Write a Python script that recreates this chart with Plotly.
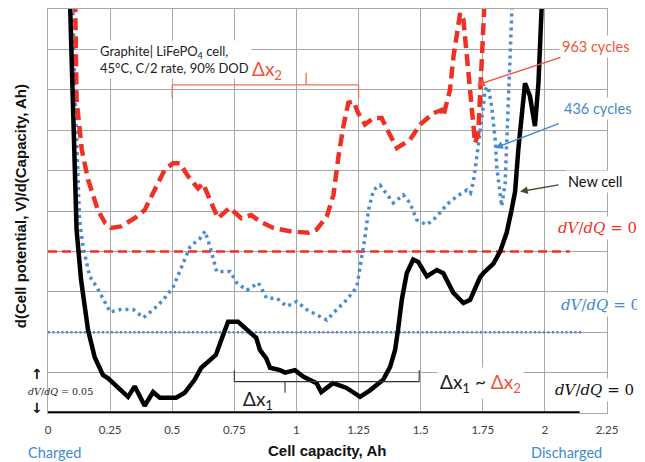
import plotly.graph_objects as go

# ---------------- data ----------------
x_ticks = [0, 0.25, 0.5, 0.75, 1, 1.25, 1.5, 1.75, 2, 2.25]
x_tick_labels = ["0", "0.25", "0.5", "0.75", "1", "1.25", "1.5", "1.75", "2", "2.25"]

# New cell (baseline dV/dQ = 0 at 0.0)
new_x = [0.080, 0.089, 0.100, 0.115, 0.133, 0.161, 0.188, 0.221, 0.242, 0.282, 0.322, 0.349,
         0.369, 0.389, 0.423, 0.450, 0.483, 0.516, 0.550, 0.590, 0.617, 0.656, 0.676, 0.697,
         0.725, 0.765, 0.805, 0.838, 0.853, 0.878, 0.894, 0.934, 0.954, 0.994, 1.027, 1.081,
         1.100, 1.147, 1.202, 1.256, 1.296, 1.349, 1.377, 1.397, 1.409, 1.424, 1.444, 1.470,
         1.490, 1.525, 1.565, 1.591, 1.631, 1.672, 1.699, 1.739, 1.752, 1.793, 1.820, 1.846,
         1.865, 1.880, 1.893, 1.907, 1.920, 1.940, 1.960, 1.974, 1.987, 1.995]
new_y = [0.600, 0.500, 0.360, 0.227, 0.165, 0.103, 0.069, 0.047, 0.043, 0.032, 0.020, 0.033,
         0.022, 0.009, 0.026, 0.019, 0.019, 0.019, 0.025, 0.041, 0.056, 0.066, 0.072, 0.090,
         0.113, 0.113, 0.103, 0.093, 0.078, 0.068, 0.056, 0.053, 0.050, 0.053, 0.045, 0.037,
         0.026, 0.037, 0.031, 0.020, 0.028, 0.041, 0.057, 0.078, 0.103, 0.140, 0.173, 0.190,
         0.187, 0.169, 0.177, 0.173, 0.149, 0.136, 0.140, 0.168, 0.173, 0.185, 0.200, 0.223,
         0.250, 0.274, 0.326, 0.375, 0.408, 0.392, 0.355, 0.408, 0.500, 0.560]

# 436 cycles (baseline dV/dQ = 0 at 0.1)
c436_x = [0.098, 0.100, 0.108, 0.114, 0.120, 0.127, 0.141, 0.154, 0.168, 0.196, 0.223, 0.250,
          0.290, 0.343, 0.384, 0.424, 0.464, 0.504, 0.538, 0.572, 0.612, 0.632, 0.652, 0.679,
          0.733, 0.760, 0.800, 0.847, 0.880, 0.921, 0.961, 1.001, 1.041, 1.082, 1.122, 1.162,
          1.202, 1.243, 1.263, 1.276, 1.290, 1.310, 1.337, 1.363, 1.390, 1.430, 1.457, 1.484,
          1.525, 1.565, 1.605, 1.645, 1.686, 1.700, 1.712, 1.726, 1.739, 1.752, 1.759, 1.772,
          1.786, 1.800, 1.806, 1.820, 1.826, 1.840, 1.849, 1.857, 1.867, 1.871, 1.875]
c436_y = [0.600, 0.500, 0.400, 0.338, 0.280, 0.239, 0.206, 0.190, 0.169, 0.156, 0.140, 0.125,
          0.128, 0.128, 0.118, 0.128, 0.140, 0.156, 0.181, 0.206, 0.216, 0.225, 0.206, 0.175,
          0.175, 0.161, 0.152, 0.161, 0.142, 0.142, 0.132, 0.138, 0.128, 0.121, 0.115, 0.128,
          0.140, 0.156, 0.190, 0.218, 0.251, 0.276, 0.282, 0.272, 0.260, 0.270, 0.260, 0.239,
          0.233, 0.243, 0.258, 0.268, 0.276, 0.272, 0.286, 0.317, 0.346, 0.379, 0.400, 0.404,
          0.379, 0.338, 0.305, 0.264, 0.256, 0.284, 0.346, 0.408, 0.470, 0.500, 0.560]

# 963 cycles (baseline dV/dQ = 0 at 0.2)
c963_x = [0.105, 0.109, 0.115, 0.136, 0.161, 0.201, 0.230, 0.254, 0.294, 0.349, 0.389, 0.429,
          0.470, 0.503, 0.530, 0.564, 0.604, 0.624, 0.658, 0.684, 0.731, 0.778, 0.818, 0.853,
          0.907, 0.974, 1.048, 1.081, 1.122, 1.149, 1.169, 1.189, 1.209, 1.229, 1.249, 1.276,
          1.310, 1.343, 1.370, 1.404, 1.457, 1.498, 1.551, 1.585, 1.591, 1.618, 1.632, 1.645,
          1.659, 1.672, 1.686, 1.699, 1.712, 1.719, 1.732, 1.739, 1.746, 1.759, 1.765]
c963_y = [0.600, 0.500, 0.388, 0.326, 0.289, 0.251, 0.235, 0.229, 0.231, 0.241, 0.251, 0.276,
          0.301, 0.309, 0.309, 0.293, 0.278, 0.284, 0.260, 0.241, 0.254, 0.241, 0.245, 0.237,
          0.229, 0.225, 0.223, 0.227, 0.243, 0.270, 0.317, 0.355, 0.384, 0.386, 0.371, 0.357,
          0.365, 0.365, 0.348, 0.328, 0.338, 0.357, 0.371, 0.375, 0.367, 0.400, 0.441, 0.470,
          0.495, 0.487, 0.441, 0.388, 0.355, 0.334, 0.346, 0.388, 0.429, 0.495, 0.560]

baseline_offsets = [0.0, 0.1, 0.2]
baseline_ends = [2.14, 2.15, 2.10]

# ---------------- style ----------------
BLACK = "#000000"
BLUE = "#4A8BD4"
RED = "#EE3124"
RED_TXT = "#F0553A"
BLUE_TXT = "#3D8AD0"
GRID = "#A8A8A8"
TXT_FONT = "Lato, Open Sans, sans-serif"
MATH_FONT = "DejaVu Serif, Liberation Serif, serif"

fig = go.Figure()

# baselines
fig.add_trace(go.Scatter(x=[0, baseline_ends[0]], y=[baseline_offsets[0]] * 2, mode="lines",
                         line=dict(color=BLACK, width=3.5), cliponaxis=False))
fig.add_trace(go.Scatter(x=[0, baseline_ends[1]], y=[baseline_offsets[1]] * 2, mode="lines",
                         line=dict(color=BLUE, width=2.5, dash="2px,2.5px")))
fig.add_trace(go.Scatter(x=[0, baseline_ends[2]], y=[baseline_offsets[2]] * 2, mode="lines",
                         line=dict(color=RED, width=2.5, dash="9px,5px")))

# curves
fig.add_trace(go.Scatter(x=c436_x, y=c436_y, mode="lines",
                         line=dict(color=BLUE, width=3.5, dash="3px,4px")))
fig.add_trace(go.Scatter(x=c963_x, y=c963_y, mode="lines",
                         line=dict(color=RED, width=4.5, dash="12px,6px")))
fig.add_trace(go.Scatter(x=new_x, y=new_y, mode="lines",
                         line=dict(color=BLACK, width=4.5)))

shapes = []
# red delta-x2 bracket
RB = "#F07050"
shapes += [
    dict(type="line", x0=0.5, x1=1.25, y0=0.406, y1=0.406, line=dict(color=RB, width=1.3)),
    dict(type="line", x0=0.5, x1=0.5, y0=0.406, y1=0.390, line=dict(color=RB, width=1.3)),
    dict(type="line", x0=1.25, x1=1.25, y0=0.406, y1=0.390, line=dict(color=RB, width=1.3)),
    dict(type="line", x0=1.039, x1=1.039, y0=0.406, y1=0.421, line=dict(color=RB, width=1.3)),
]
# black delta-x1 bracket
KB = "#333333"
shapes += [
    dict(type="line", x0=0.75, x1=1.494, y0=0.0388, y1=0.0388, line=dict(color=KB, width=1.1)),
    dict(type="line", x0=0.75, x1=0.75, y0=0.0388, y1=0.053, line=dict(color=KB, width=1.1)),
    dict(type="line", x0=1.494, x1=1.494, y0=0.0388, y1=0.053, line=dict(color=KB, width=1.1)),
    dict(type="line", x0=0.954, x1=0.954, y0=0.0388, y1=0.025, line=dict(color=KB, width=1.1)),
]

ann = []
def txt(x, y, text, size, color, font=TXT_FONT, xref="x", yref="y", bg=None, align="center",
        xanchor="center", textangle=0):
    d = dict(x=x, y=y, xref=xref, yref=yref, text=text, showarrow=False,
             font=dict(size=size, color=color, family=font), align=align, xanchor=xanchor,
             yanchor="middle", textangle=textangle)
    if bg:
        d["bgcolor"] = bg
        d["borderpad"] = 2
    ann.append(d)

def arrow(xh, yh, ax, ay, color):
    ann.append(dict(x=xh, y=yh, xref="x", yref="y", ax=ax, ay=ay, axref="pixel", ayref="pixel",
                    text="", showarrow=True, arrowhead=2, arrowsize=1.1, arrowwidth=1.4,
                    arrowcolor=color, standoff=0, startstandoff=0))

# info box
txt(0.198, 0.437, "Graphite| LiFePO<sub>4</sub> cell,<br>45°C, C/2 rate, 90% DOD", 13, "#222222",
    bg="white", align="left", xanchor="left")
# delta labels
txt(0.88, 0.424, "Δx<sub>2</sub>", 19, RED_TXT)
txt(0.845, 0.016, "Δx<sub>1</sub>", 19, "#222222")
txt(1.74, 0.037, "Δx<sub>1</sub> ~ <span style='color:%s'>Δx<sub>2</sub></span>" % RED_TXT, 19,
    "#222222", bg="white")
# series labels
txt(2.205, 0.453, "963 cycles", 14.5, RED_TXT, bg="white")
txt(2.212, 0.377, "436 cycles", 14.5, BLUE_TXT, bg="white")
txt(2.205, 0.286, "New cell", 14.5, "#111111", bg="white")
arrow(1.727, 0.406, 85, -28, RED_TXT)
arrow(1.800, 0.328, 65, -25, BLUE_TXT)
arrow(1.900, 0.274, 40, -7, "#4A4A30")
# dV/dQ labels
txt(2.213, 0.229, "<i>dV</i>/<i>dQ</i> = 0", 15, RED, font=MATH_FONT, bg="white")
txt(2.225, 0.134, "<i>dV</i>/<i>dQ</i> = 0", 15, BLUE_TXT, font=MATH_FONT, bg="white")
txt(2.2, 0.028, "<i>dV</i>/<i>dQ</i> = 0", 15, "#111111", font=MATH_FONT, bg="white")
txt(0.0224, 0.052, "<i>dV</i>/<i>dQ</i> = 0.05", 9.5, "#222222", font=MATH_FONT,
    xref="paper", yref="paper")
txt(-0.0195, 0.097, "<b>↑</b>", 14, "#111111", font="DejaVu Sans", xref="paper", yref="paper")
txt(-0.0195, 0.012, "<b>↓</b>", 14, "#111111", font="DejaVu Sans", xref="paper", yref="paper")
# axis titles and end labels
txt(-0.05, 0.512, "<b>d(Cell potential, V)/d(Capacity, Ah)</b>", 15, "#111111",
    font="Liberation Sans, Arial, sans-serif", xref="paper", yref="paper", textangle=-90)
txt(0.499, -0.092, "<b>Cell capacity, Ah</b>", 15, "#111111",
    font="Liberation Sans, Arial, sans-serif", xref="paper", yref="paper")
txt(0.011, -0.097, "Charged", 14.5, BLUE_TXT, xref="paper", yref="paper")
txt(0.928, -0.097, "Discharged", 14.5, BLUE_TXT, xref="paper", yref="paper")

# the page body adds an 8px offset; size/margins compensate so the plot area
# lands at x 48..607, y 9..413 in the window
fig.update_layout(
    width=637, height=454,
    margin=dict(l=40, r=38, t=1, b=49),
    plot_bgcolor="white", paper_bgcolor="white",
    showlegend=False,
    shapes=shapes, annotations=ann,
    xaxis=dict(range=[0, 2.25], tickvals=x_ticks, ticktext=x_tick_labels, showgrid=True,
               gridcolor=GRID, gridwidth=1, showline=True, linecolor=GRID, linewidth=1,
               mirror=True, zeroline=False, ticks="", ticklabelstandoff=6,
               tickfont=dict(size=11.5, color="#404040", family=TXT_FONT)),
    yaxis=dict(range=[0, 0.5], tick0=0, dtick=0.05, showticklabels=False, showgrid=True,
               gridcolor=GRID, gridwidth=1, showline=True, linecolor=GRID, linewidth=1,
               mirror=True, zeroline=False, ticks=""),
)

fig.write_html("out.html")
